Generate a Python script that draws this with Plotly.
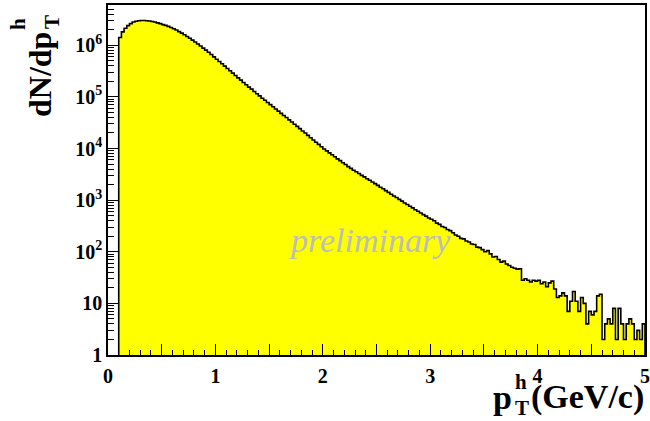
import numpy as np
import plotly.graph_objects as go

# histogram binning (GeV/c)
bin_start = 0.1
bin_width = 0.025

# dN/dpT per bin
counts = [
    # 0.1 - 1.0
    1.41e6, 1.82e6, 2.14e6, 2.40e6, 2.63e6, 2.82e6, 2.92e6, 2.99e6, 3.02e6, 3.02e6,
    2.99e6, 2.95e6, 2.88e6, 2.82e6, 2.72e6, 2.63e6, 2.51e6, 2.43e6, 2.32e6, 2.21e6,
    2.09e6, 1.97e6, 1.84e6, 1.72e6, 1.60e6, 1.48e6, 1.37e6, 1.26e6, 1.16e6, 1.06e6,
    9.66e5, 8.81e5, 8.04e5, 7.33e5, 6.61e5, 5.96e5,
    # 1.0 - 2.0
    5.37e5, 4.84e5, 4.37e5, 3.94e5, 3.55e5, 3.20e5, 2.88e5, 2.60e5, 2.34e5, 2.11e5,
    1.905e5, 1.718e5, 1.549e5, 1.413e5, 1.274e5, 1.148e5, 1.047e5, 9.44e4, 8.61e4, 7.76e4,
    7.08e4, 6.46e4, 5.82e4, 5.31e4, 4.79e4, 4.37e4, 3.98e4, 3.59e4, 3.27e4, 2.95e4,
    2.69e4, 2.43e4, 2.19e4, 1.995e4, 1.80e4, 1.62e4, 1.46e4, 1.32e4, 1.20e4, 1.08e4,
    # 2.0 - 3.0
    9772, 9016, 8222, 7586, 6918, 6310, 5821, 5309, 4898, 4467,
    4121, 3802, 3548, 3273, 3020, 2818, 2600, 2427, 2239, 2089,
    1928, 1778, 1660, 1531, 1413, 1303, 1202, 1122, 1035, 955,
    881, 822, 759, 708, 653, 610, 562, 525, 490, 452,
    # 3.0 - 4.0
    427, 398, 359, 339, 309, 295, 269, 257, 234, 211,
    200, 182, 178, 162, 155, 141, 138, 123, 120, 110,
    100, 105, 91, 79, 81, 71, 63, 66, 58, 54,
    50, 48, 46, 47, 28, 30, 28, 26, 28, 27,
    # 4.0 - 5.0
    28, 24, 26, 21, 25, 27, 19, 13, 14, 16,
    14, 7, 11, 17, 11, 7, 13, 10, 4, 7,
    6, 7, 14, 15, 2, 4, 5, 4, 8, 2,
    8, 4, 2, 4, 5, 4, 2, 3, 2, 4,
]

x_ticks = [0, 1, 2, 3, 4, 5]
x_half_ticks = [0.5, 1.5, 2.5, 3.5, 4.5]
y_ticks = [1, 10, 1e2, 1e3, 1e4, 1e5, 1e6]
y_labels = ['1', '10', '10<sup>2</sup>', '10<sup>3</sup>', '10<sup>4</sup>',
            '10<sup>5</sup>', '10<sup>6</sup>']

edges = bin_start + bin_width * np.arange(len(counts) + 1)
xs = np.concatenate([[edges[0]], edges, [edges[-1]]])
ys = np.concatenate([[1], counts, [counts[-1], 1]])

fig = go.Figure()
# yellow filled area
fig.add_trace(go.Scatter(x=xs, y=ys, mode='lines', line=dict(width=0, shape='hv'),
                         fill='toself', fillcolor='#ffff00', hoverinfo='skip'))
# black histogram outline
fig.add_trace(go.Scatter(x=xs, y=ys, mode='lines', line=dict(color='black', width=1.6, shape='hv')))
# invisible helper so the half-unit tick axis is drawn
fig.add_trace(go.Scatter(x=[0, 5], y=[1, 1], mode='lines', line=dict(width=0),
                         xaxis='x2', hoverinfo='skip'))

minor_y = [m * 10 ** k for k in range(0, 7) for m in range(2, 10) if m * 10 ** k < 6e6]

tick_font = dict(family='Liberation Serif', size=20, weight='bold', color='black')

fig.update_layout(
    xaxis=dict(range=[0, 5], tickmode='array', tickvals=x_ticks,
               ticks='inside', ticklen=11, tickwidth=1, tickcolor='black',
               showline=True, linecolor='black', linewidth=1.5, mirror=True,
               showgrid=False, zeroline=False, automargin=False, ticklabelstandoff=2,
               tickfont=tick_font,
               minor=dict(tickmode='linear', tick0=0, dtick=0.1, ticks='inside',
                          ticklen=5, tickcolor='black', showgrid=False)),
    xaxis2=dict(range=[0, 5], overlaying='x', side='bottom', tickmode='array',
                tickvals=x_half_ticks, showticklabels=False, ticks='inside', ticklen=11,
                tickwidth=1, tickcolor='black', showline=False, showgrid=False,
                zeroline=False, automargin=False),
    yaxis=dict(type='log', range=[0, 6.78], tickmode='array', tickvals=y_ticks, ticktext=y_labels,
               ticks='inside', ticklen=10, tickwidth=1, tickcolor='black',
               showline=True, linecolor='black', linewidth=1.5, mirror=True,
               showgrid=False, zeroline=False, automargin=False,
               tickfont=tick_font,
               minor=dict(tickmode='array', tickvals=minor_y, ticks='inside',
                          ticklen=6, tickcolor='black', showgrid=False)),
)

L, R, T, B = 108, 645, 5, 355


def px(x):
    return (x - L) / (R - L)


def py(y):
    return (B - y) / (B - T)


title_font = dict(family='Liberation Serif', size=32, color='black', weight='bold')
xtitle_font = dict(family='Liberation Serif', size=34, color='black', weight='bold')
small_font = dict(family='Liberation Serif', size=21, color='black', weight='bold')

annotations = [
    # y axis title, stacked super/subscript
    dict(text='dN/dp', x=px(40), y=py(75), textangle=-90, font=title_font),
    dict(text='h', x=px(18), y=py(24), textangle=-90, font=small_font),
    dict(text='T', x=px(52), y=py(22), textangle=-90, font=small_font),
    # x axis title
    dict(text='(GeV/c)', x=px(646), y=py(397), xanchor='right', font=xtitle_font),
    dict(text='p', x=px(514), y=py(397), xanchor='right', font=xtitle_font),
    dict(text='h', x=px(513), y=py(382), xanchor='left', font=small_font),
    dict(text='T', x=px(513), y=py(408), xanchor='left', font=small_font),
    # watermark
    dict(text='preliminary', x=px(370), y=py(240),
         font=dict(family='Liberation Serif', size=34, color='#bdbdbd', style='italic')),
]
for a in annotations:
    a.setdefault('xanchor', 'center')
    a['yanchor'] = 'middle'
    a['showarrow'] = False
    a['xref'] = 'paper'
    a['yref'] = 'paper'

fig.update_layout(width=650, height=421, margin=dict(l=L, r=650 - R, t=T, b=421 - B),
                  paper_bgcolor='white', plot_bgcolor='white', showlegend=False,
                  annotations=annotations)

fig.write_html("out.html", config={'displayModeBar': False},
               post_script="document.body.style.margin='0';document.body.style.overflow='hidden';")
